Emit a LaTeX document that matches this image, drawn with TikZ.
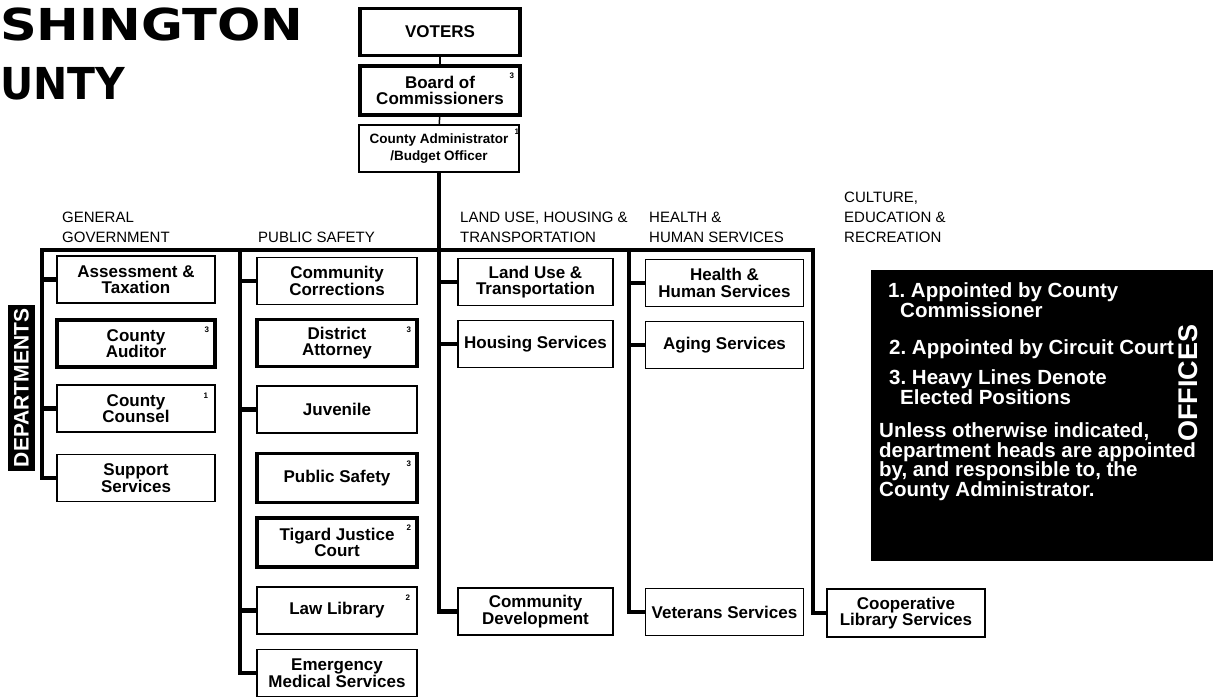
\documentclass[tikz,border=0pt]{standalone}
\usepackage{fontspec}
\setmainfont{Liberation Sans}
\newfontfamily\titlefont{DejaVu Sans}
\newcommand{\boxfont}[0]{\fontsize{17}{16.5}\selectfont\bfseries}
\newcommand{\headfont}[0]{\fontsize{15}{20}\selectfont}
\newcommand{\keyfont}[0]{\fontsize{20.5}{19.5}\selectfont\bfseries}
\newcommand{\supnote}[2]{\node[supnum] (#1-sup) at ([shift={(-10,12)}]#1.north east) {#2};}

\begin{document}
\begin{tikzpicture}[x=1pt, y=-1pt, line join=miter]
  \tikzset{
    dept/.style={draw, line width=1.6pt, minimum width=158pt, minimum height=47pt, inner sep=0pt, align=center, font=\boxfont},
    elected/.style={dept, line width=3.6pt},
    link/.style={line width=1.5pt},
    heavy/.style={line width=4.5pt},
    head/.style={anchor=north west, inner sep=0pt, align=left, font=\headfont},
    supnum/.style={inner sep=0pt, font=\fontsize{8}{8}\selectfont\bfseries},
    key/.style={anchor=north west, inner sep=0pt, align=left, text=white, font=\keyfont},
    title/.style={anchor=north west, inner sep=0pt, font=\titlefont\bfseries\fontsize{44}{44}\selectfont}
  }
  \useasboundingbox (0,0) rectangle (1217,698);

  \node[title] (title1) at (0,8) {\scalebox{1.16}[1]{SHINGTON}};
  \node[title] (title2) at (0,67) {\scalebox{0.93}[1]{UNTY}};

  \node[elected, minimum width=160pt] (voters) at (440,32) {VOTERS};
  \node[elected, minimum width=160pt, minimum height=49pt] (board) at (440,90.5) {Board of\\Commissioners};
  \node[dept, minimum width=160pt, font=\fontsize{13.5}{17}\selectfont\bfseries] (admin) at (439,148.5) {County Administrator\\/Budget Officer};

  \node[head] (gghead) at (62,211.5) {GENERAL\\GOVERNMENT};
  \node[head] (pshead) at (258,231.5) {PUBLIC SAFETY};
  \node[head] (luhead) at (460,211.5) {LAND USE, HOUSING \&\\TRANSPORTATION};
  \node[head] (hhhead) at (649,211.5) {HEALTH \&\\HUMAN SERVICES};
  \node[head] (cerhead) at (844,191.5) {CULTURE,\\EDUCATION \&\\RECREATION};

  \node[fill=black, text=white, rotate=90, minimum width=166pt, minimum height=27pt, inner sep=0pt, font=\fontsize{21}{21}\selectfont\bfseries] (deptlabel) at (21.5,388) {DEPARTMENTS};

  \node[dept] (assess) at (136,279.5) {Assessment \&\\Taxation};
  \node[elected] (auditor) at (136,343.5) {County\\Auditor};
  \node[dept] (counsel) at (136,408.5) {County\\Counsel};
  \node[dept] (support) at (136,478) {Support\\Services};

  \node[dept, minimum width=160pt] (corrections) at (337,281) {Community\\Corrections};
  \node[elected, minimum width=160pt] (da) at (337,343) {District\\Attorney};
  \node[dept, minimum width=160pt] (juvenile) at (337,409.5) {Juvenile};
  \node[elected, minimum width=160pt, minimum height=49pt] (psafety) at (337,478) {Public Safety};
  \node[elected, minimum width=160pt, minimum height=49pt] (tigard) at (337,542.5) {Tigard Justice\\Court};
  \node[dept, minimum width=160pt] (lawlib) at (337,610.5) {Law Library};
  \node[dept, minimum width=160pt] (ems) at (337,673) {Emergency\\Medical Services};

  \node[dept, minimum width=155pt] (landuse) at (535.5,282) {Land Use \&\\Transportation};
  \node[dept, minimum width=155pt] (housing) at (535.5,344) {Housing Services};
  \node[dept, minimum width=155pt] (comdev) at (535.5,611.5) {Community\\Development};

  \node[dept] (hhs) at (724.5,283) {Health \&\\Human Services};
  \node[dept] (aging) at (724.5,345) {Aging Services};
  \node[dept] (veterans) at (724.5,612) {Veterans Services};

  \node[dept, minimum height=48pt] (coop) at (906,613) {Cooperative\\Library Services};

  \supnote{board}{3}
  \node[supnum] (admin-sup) at ([shift={(-3,8)}]admin.north east) {1};
  \supnote{auditor}{3}
  \supnote{counsel}{1}
  \supnote{da}{3}
  \supnote{psafety}{3}
  \supnote{tigard}{2}
  \supnote{lawlib}{2}

  \node[fill=black, minimum width=342pt, minimum height=291pt, inner sep=0pt] (legend) at (1042,415.5) {};
  \node[key] (key1) at (888,282.6) {1.\ Appointed by County\\\hspace*{12pt}Commissioner};
  \node[key] (key2) at (889,339.6) {2.\ Appointed by Circuit Court};
  \node[key] (key3) at (889,369.6) {3.\ Heavy Lines Denote\\\hspace*{11pt}Elected Positions};
  \node[key] (keynote) at (879,422.6) {Unless otherwise indicated,\\department heads are appointed\\by, and responsible to, the\\County Administrator.};
  \node[text=white, rotate=90, inner sep=0pt, font=\fontsize{27}{27}\selectfont\bfseries] (offices) at (1188,383) {OFFICES};

  \coordinate (ggtop) at (42,250);
  \coordinate (pstop) at (240,250);
  \coordinate (hhtop) at (629,250);
  \coordinate (certop) at (813,250);

  \draw[link] (voters) -- (board);
  \draw[link] (board) -- (admin);
  \draw[heavy] (admin.south) -- (comdev.west -| admin.south) -- (comdev.west);
  \draw[heavy] (support.west) -| (ggtop) -- (certop) |- (coop.west);
  \draw[heavy] (pstop) |- (ems.west);
  \draw[heavy] (hhtop) |- (veterans.west);
  \foreach \n in {assess,counsel}
    \draw[heavy] (\n.west) -- (\n.west -| ggtop);
  \foreach \n in {corrections,juvenile,lawlib}
    \draw[heavy] (\n.west) -- (\n.west -| pstop);
  \foreach \n in {landuse,housing}
    \draw[heavy] (\n.west) -- (\n.west -| admin.south);
  \foreach \n in {hhs,aging}
    \draw[heavy] (\n.west) -- (\n.west -| hhtop);
\end{tikzpicture}
\end{document}
